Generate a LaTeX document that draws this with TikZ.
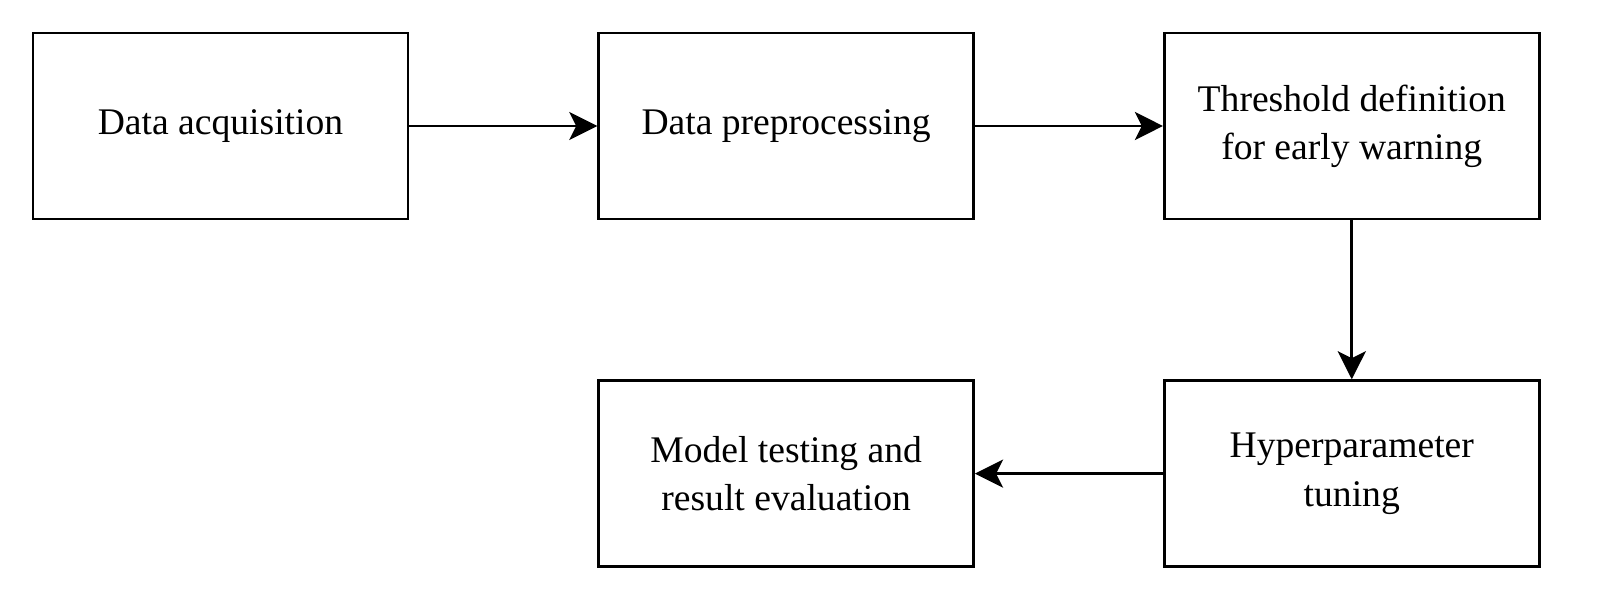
\documentclass[tikz,border=0pt]{standalone}
\usepackage{fontspec}
\setmainfont{Liberation Serif}
\usetikzlibrary{positioning,arrows.meta}

\tikzset{stagebox/.style={draw, line width=1.5pt, minimum width=7.5cm, minimum height=3.72cm, align=center, font=\fontsize{21.4}{27.5}\selectfont},
  flow/.style={-{Stealth[length=16pt,width=16pt,inset=4pt]}, line width=1.5pt}}

\begin{document}
\begin{tikzpicture}
\useasboundingbox (0,0) rectangle (32,12.2);
\node[stagebox] (acq) at (4.41,9.68) {Data acquisition};
\node[stagebox, right=3.76cm of acq] (prep) {Data preprocessing};
\node[stagebox, right=3.76cm of prep] (thr) {Threshold definition\\for early warning};
\node[stagebox, below=3.18cm of thr] (hyp) {Hyperparameter\\tuning};
\node[stagebox, left=3.76cm of hyp] (test) {Model testing and\\result evaluation};
\draw[flow] (acq) -- (prep); \draw[flow] (prep) -- (thr);
\draw[flow] (thr) -- (hyp); \draw[flow] (hyp) -- (test);
\end{tikzpicture}
\end{document}
